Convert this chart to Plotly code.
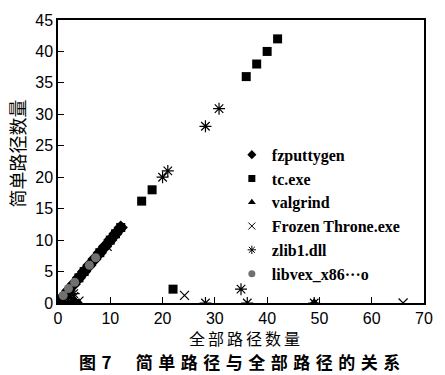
import plotly.graph_objects as go

# ---- data ----
fz_x = [0, 1, 2, 3, 4, 5, 6, 7, 8, 9, 10, 11, 12]
fz_y = [0, 1, 2, 3, 4, 5, 6, 7, 8, 9, 10, 11, 12]

tc_x = [0, 4, 5, 8, 10, 11, 12, 16, 18, 22, 36, 38, 40, 42]
tc_y = [0, 4, 5, 8, 10, 11, 12, 16.2, 18, 2.2, 36, 38, 40, 42]

vg_x = [0, 1, 2, 3, 4, 2, 3, 49]
vg_y = [0, 0, 0, 0, 0, 1, 0.5, 0]

ft_x = [9.4, 24.2, 66, 3, 4]
ft_y = [9, 1.2, 0, 1, 0.3]

zl_x = [20, 21, 28.2, 30.8, 28.2, 35, 36.2, 49, 3]
zl_y = [20, 21, 28.1, 30.9, 0, 2.2, 0, 0, 1.5]

lv_x = [1, 2, 3.2, 6, 7.2]
lv_y = [1.2, 2.3, 3.3, 6, 7.2]

x_ticks = [0, 10, 20, 30, 40, 50, 60, 70]
y_ticks = [0, 5, 10, 15, 20, 25, 30, 35, 40, 45]

names = ["fzputtygen", "tc.exe", "valgrind", "Frozen Throne.exe", "zlib1.dll",
         "libvex_x86\u00b7\u00b7\u00b7o"]

series = [
    (fz_x, fz_y, dict(symbol="diamond", size=11, color="black")),
    (tc_x, tc_y, dict(symbol="square", size=9, color="black")),
    (vg_x, vg_y, dict(symbol="triangle-up", size=10, color="black")),
    (ft_x, ft_y, dict(symbol="x-thin-open", size=9, color="black",
                      line=dict(width=1.2, color="black"))),
    (zl_x, zl_y, dict(symbol="asterisk-open", size=10, color="black",
                      line=dict(width=1.2, color="black"))),
    (lv_x, lv_y, dict(symbol="circle", size=9, color="#707070")),
]

fig = go.Figure()
for name, (xs, ys, mk) in zip(names, series):
    fig.add_trace(go.Scatter(x=xs, y=ys, mode="markers", name=name,
                             marker=mk, showlegend=False, legendgroup=name))
# small legend symbols
for name, (xs, ys, mk) in zip(names, series):
    small = dict(mk)
    small["size"] = 7
    if "line" in small:
        small["line"] = dict(width=1, color="black")
    fig.add_trace(go.Scatter(x=[None], y=[None], mode="markers", name=name,
                             marker=small, showlegend=True, legendgroup=name))

axis_common = dict(showline=True, linecolor="black", linewidth=1.5, mirror=True,
                   ticks="inside", ticklen=6, tickwidth=1, tickcolor="black",
                   showgrid=False, zeroline=False,
                   tickfont=dict(family="Liberation Sans, Arial", size=16, color="black"))

fig.update_xaxes(range=[0, 70], tickvals=x_ticks, **axis_common)
fig.update_yaxes(range=[0, 45], tickvals=y_ticks, **axis_common)

fig.update_layout(
    width=445, height=375,
    margin=dict(l=58, r=12, t=15, b=72),
    plot_bgcolor="white", paper_bgcolor="white",
    showlegend=True,
    legend=dict(x=0.475, y=0.584, xanchor="left", yanchor="top",
                bgcolor="rgba(0,0,0,0)", tracegroupgap=0,
                font=dict(family="Liberation Serif, Times New Roman", size=16,
                          color="black", weight="bold")),
    annotations=[
        dict(text='<span style="letter-spacing:3px">全部路径数量</span>',
             xref="paper", yref="paper", x=0.515,
             y=-(339 - 303) / 288, xanchor="center", yanchor="middle", showarrow=False,
             font=dict(family="Noto Sans CJK SC", size=16, color="#000000")),
        dict(text='<b><span style="letter-spacing:5.5px">图7  简单路径与全部路径的关系</span></b>',
             xref="paper", yref="paper",
             x=0.505, y=-(362.7 - 303) / 288, xanchor="center", yanchor="middle",
             showarrow=False,
             font=dict(family="Noto Sans CJK SC", size=17, color="#000000")),
        dict(text="简单路径数量", xref="paper", yref="paper", x=-0.111, y=0.53,
             xanchor="center", yanchor="middle", textangle=-90, showarrow=False,
             font=dict(family="Noto Sans CJK SC", size=18, color="#000000")),
    ],
)

fig.write_html("out.html")
